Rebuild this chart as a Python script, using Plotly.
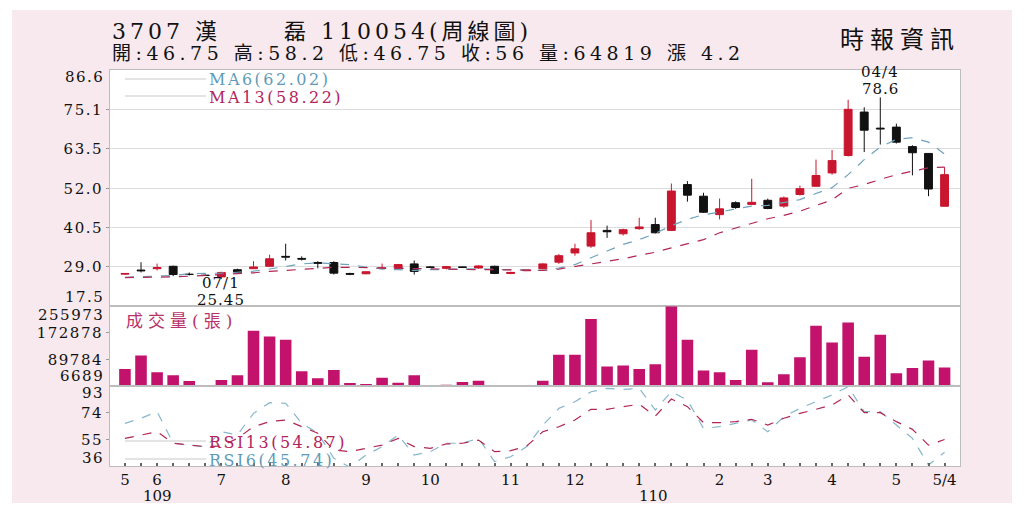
import plotly.graph_objects as go
from plotly.subplots import make_subplots

# weekly data, index 0 = late May 109 (2020), last = week of 110/5/4
week = list(range(52))

open_ = [26.9, 28.1, 28.5, 29.2, 26.9, 26.6, 26.1, 28.2, 28.5, 29.2,
         32.1, 31.5, 30.3, 30.3, 27.1, 27.0, 28.6, 28.6, 29.9, 29.0,
         28.6, 29.0, 28.7, 29.2, 27.1, 27.9, 28.5, 30.4, 33.1, 35.1,
         39.7, 38.7, 40.2, 41.4, 39.7, 53.1, 49.7, 44.3, 47.8, 47.3,
         48.5, 46.8, 50.2, 52.6, 56.5, 61.6, 74.3, 69.6, 69.9, 64.2,
         62.2, 46.75]
high = [27.2, 30.4, 30.0, 29.4, 27.4, 26.8, 27.6, 28.5, 30.7, 32.6,
        35.8, 32.1, 30.7, 30.7, 27.3, 27.8, 30.0, 29.9, 30.9, 29.2,
        29.3, 29.1, 29.5, 29.4, 27.6, 28.2, 30.1, 32.8, 35.8, 42.7,
        41.1, 40.2, 43.4, 43.4, 53.4, 54.1, 50.7, 49.0, 48.2, 54.8,
        49.0, 49.6, 52.8, 60.4, 63.2, 77.9, 75.7, 78.6, 70.9, 64.6,
        62.3, 58.2]
low = [26.8, 27.4, 28.0, 26.3, 26.5, 26.4, 25.45, 27.0, 28.4, 29.1,
       30.9, 30.9, 28.6, 26.8, 26.6, 26.9, 28.5, 28.4, 26.8, 28.8,
       28.3, 28.8, 28.5, 26.9, 26.9, 27.8, 28.3, 29.9, 32.3, 34.6,
       37.5, 38.2, 39.9, 38.8, 39.5, 48.1, 44.8, 42.9, 46.0, 47.2,
       45.9, 46.3, 49.9, 52.4, 56.0, 61.3, 62.6, 64.8, 65.1, 55.8,
       49.7, 46.75]
close = [27.1, 27.9, 28.8, 26.8, 26.8, 26.5, 27.4, 27.3, 29.0, 31.4,
         31.9, 31.3, 30.1, 27.2, 26.9, 27.6, 28.7, 29.7, 27.7, 28.9,
         29.1, 28.9, 29.3, 27.1, 27.4, 28.1, 29.9, 32.3, 34.3, 39.0,
         39.3, 39.9, 40.7, 39.0, 51.2, 50.0, 45.0, 46.0, 46.4, 47.9,
         46.1, 49.2, 51.9, 55.75, 60.1, 75.1, 69.0, 69.4, 65.5, 62.4,
         51.8, 56.0]

ma6 = [26.0, 26.1, 26.3, 26.5, 27.0, 27.0, 27.2, 27.45, 27.8, 28.4,
       29.2, 29.9, 30.2, 30.0, 29.7, 29.0, 28.4, 28.2, 28.0, 28.2,
       28.3, 28.3, 28.5, 28.3, 28.2, 28.1, 28.0, 28.7, 29.7, 31.7,
       33.6, 35.6, 37.0, 38.8, 41.1, 42.9, 44.3, 45.0, 46.0, 46.8,
       47.0, 47.8, 48.7, 50.5, 52.2, 56.0, 60.4, 64.1, 66.3, 66.8,
       65.5, 62.02]
ma13 = [25.9, 25.9, 26.0, 26.1, 26.3, 26.5, 26.7, 27.1, 27.3, 27.7,
        28.0, 28.5, 28.8, 28.9, 28.9, 28.8, 28.7, 28.6, 28.4, 28.3,
        28.3, 28.3, 28.2, 28.2, 28.2, 28.1, 28.0, 28.4, 29.1, 30.0,
        30.7, 31.4, 32.4, 33.3, 34.6, 35.9, 37.0, 39.0, 40.4, 41.9,
        43.1, 44.1, 45.3, 47.0, 48.6, 52.0, 53.1, 54.6, 56.0, 57.0,
        58.0, 58.22]

volume = [60130, 101940, 49760, 40330, 22400, 6689, 25550, 40330, 179590, 161670,
          151300, 52900, 30900, 57000, 16120, 12980, 32780, 17060, 40330, 7000,
          10780, 19260, 23350, 7630, 6900, 6800, 23350, 104140, 104140, 216370,
          67360, 70500, 60130, 74900, 255973, 151300, 54790, 49760, 25550, 119860,
          18320, 43470, 96910, 195300, 142800, 205680, 97850, 167010, 46610, 63270,
          86220, 64819]

rsi6 = [66.4, 70.0, 74.7, 52.2, 50.9, 49.8, 60.4, 58.1, 73.5, 81.1,
        80.7, 66.4, 59.3, 41.5, 35.1, 43.8, 49.8, 58.1, 43.8, 46.2,
        52.2, 52.2, 55.7, 39.1, 42.6, 49.8, 65.0, 77.1, 81.8, 88.9,
        91.3, 90.6, 91.3, 75.9, 88.9, 83.0, 62.8, 64.0, 66.4, 68.8,
        60.4, 71.1, 77.1, 81.8, 86.6, 92.5, 74.7, 74.7, 65.2, 55.7,
        36.7, 45.74]
rsi13 = [55.7, 58.1, 60.4, 52.2, 50.9, 49.8, 50.2, 55.7, 64.0, 67.6,
         68.8, 64.0, 59.3, 47.4, 46.2, 48.6, 50.9, 55.7, 49.8, 48.6,
         51.7, 52.2, 54.5, 46.2, 46.9, 50.2, 60.4, 64.0, 68.8, 76.4,
         76.4, 78.3, 80.0, 71.6, 83.7, 78.3, 66.9, 66.9, 67.6, 69.3,
         65.2, 70.0, 73.5, 76.4, 79.5, 86.6, 74.0, 74.0, 67.6, 62.1,
         50.9, 54.87]

price_ticks = [17.5, 29.0, 40.5, 52.0, 63.5, 75.1, 86.6]
vol_ticks = [6689, 89784, 172878, 255973]
rsi_ticks = [36, 55, 74, 93]
month_pos = [0, 2, 6, 10, 15, 19, 24, 28, 32, 37, 40, 44, 48, 51]
month_txt = ['5', '6', '7', '8', '9', '10', '11', '12', '1', '2', '3', '4', '5', '5/4']

FONT = 'DejaVu Serif, Noto Sans CJK TC, serif'
CJK = 'Noto Sans CJK TC, DejaVu Serif, serif'
RED = '#c8162e'
BLUE = '#6fa2bd'
CRIMSON = '#b12653'
GRID = '#dcdcdc'
LINE = '#bdbdbd'

# the page body adds 8px, so the figure is 8px smaller and all pixel
# positions below are given in window coordinates
OFF = 8
W, H = 1024 - OFF, 512 - OFF
ML, MR, MT, MB = 110 - OFF, 64, 70 - OFF, 46
PW, PH = W - ML - MR, H - MT - MB


def px(x):
    return (x - OFF - ML) / PW


def py(y):
    return (H - MB - (y - OFF)) / PH


def spaced(txt, ls):
    return '<span style="letter-spacing:%spx">%s</span>' % (ls, txt)


fig = make_subplots(rows=3, cols=1, shared_xaxes=True, vertical_spacing=0,
                    row_heights=[236.3, 79.7, 80])

fig.add_trace(go.Candlestick(
    x=week, open=open_, high=high, low=low, close=close,
    increasing=dict(line=dict(color=RED, width=1), fillcolor=RED),
    decreasing=dict(line=dict(color='#111111', width=1), fillcolor='#111111'),
    whiskerwidth=0, showlegend=False), row=1, col=1)
fig.add_trace(go.Scatter(x=week, y=ma6, mode='lines',
                         line=dict(color=BLUE, width=1.2, dash='dash'),
                         showlegend=False), row=1, col=1)
fig.add_trace(go.Scatter(x=week, y=ma13, mode='lines',
                         line=dict(color=CRIMSON, width=1.2, dash='dash'),
                         showlegend=False), row=1, col=1)

fig.add_trace(go.Bar(x=week, y=volume, width=0.72, marker_color='#c2126c',
                     marker_line_width=0, showlegend=False), row=2, col=1)

fig.add_trace(go.Scatter(x=week, y=rsi6, mode='lines',
                         line=dict(color='#86b6cc', width=1.2, dash='dash'),
                         showlegend=False), row=3, col=1)
fig.add_trace(go.Scatter(x=week, y=rsi13, mode='lines',
                         line=dict(color=CRIMSON, width=1.2, dash='dash'),
                         showlegend=False), row=3, col=1)

xr = [-0.93, 51.96]
for r in (1, 2, 3):
    fig.update_xaxes(range=xr, showgrid=False, showline=True, mirror=True,
                     linecolor=LINE, linewidth=1, zeroline=False,
                     rangeslider_visible=False, row=r, col=1)
fig.update_xaxes(tickmode='array', tickvals=month_pos, ticktext=month_txt,
                 ticks='', tickfont=dict(family=FONT, size=15, color='#111'),
                 minor=dict(tickmode='linear', tick0=0, dtick=1, ticks='inside',
                            ticklen=3, tickcolor='#666', tickwidth=2),
                 row=3, col=1)

fig.update_yaxes(range=[17.5, 86.6], tickmode='array', tickvals=price_ticks[1:-1],
                 ticktext=[spaced('%.1f' % v, 1.5) for v in price_ticks[1:-1]],
                 showgrid=True, gridcolor=GRID, row=1, col=1)
fig.update_yaxes(range=[vol_ticks[0], vol_ticks[-1]], tickmode='array',
                 tickvals=vol_ticks[1:-1], ticktext=[spaced(v, 1.5) for v in vol_ticks[1:-1]],
                 showgrid=False, row=2, col=1)
fig.update_yaxes(range=[rsi_ticks[0], rsi_ticks[-1]], tickmode='array',
                 tickvals=rsi_ticks[1:-1], ticktext=[spaced(v, 1.5) for v in rsi_ticks[1:-1]],
                 showgrid=False, row=3, col=1)
fig.update_yaxes(showline=True, mirror=True, linecolor=LINE, zeroline=False,
                 ticks='outside', ticklen=3, tickcolor='#999',
                 tickfont=dict(family=FONT, size=15, color='#111'))

ann = []
# edge labels of the y axes, nudged inside their panels
for ref, val, txt, shift in [('y', price_ticks[-1], '86.6', -7), ('y', price_ticks[0], '17.5', 9),
                             ('y2', vol_ticks[-1], '255973', -9), ('y2', vol_ticks[0], '6689', 10),
                             ('y3', rsi_ticks[-1], '93', -7), ('y3', rsi_ticks[0], '36', 8)]:
    ann.append(dict(xref='paper', yref=ref, x=0, y=val, text=spaced(txt, 1.5), xanchor='right',
                    xshift=-4, yshift=shift, showarrow=False,
                    font=dict(family=FONT, size=15, color='#111')))

ann += [
    dict(x=px(110), y=py(31), text=spaced('3707 漢　　 磊 110054(周線圖)', 4), xanchor='left',
         font=dict(family=FONT, size=22, color='#111')),
    dict(x=px(110), y=py(53), text=spaced('開:46.75 高:58.2 低:46.75 收:56 量:64819 漲 4.2', 4.5),
         xanchor='left', font=dict(family=FONT, size=19, color='#111')),
    dict(x=px(962), y=py(37), text=spaced('時報資訊', 6), xanchor='right',
         font=dict(family=CJK, size=24, color='#111')),
    dict(x=px(207), y=py(79), text=spaced('MA6(62.02)', 2.5), xanchor='left',
         font=dict(family=FONT, size=16, color='#5f9bb8')),
    dict(x=px(207), y=py(97), text=spaced('MA13(58.22)', 2.5), xanchor='left',
         font=dict(family=FONT, size=16, color='#b3245d')),
    dict(x=px(124), y=py(321), text=spaced('成交量(張)', 5), xanchor='left',
         font=dict(family=FONT, size=17, color='#b8336b')),
    dict(x=px(207), y=py(442), text=spaced('RSI13(54.87)', 2.5), xanchor='left',
         font=dict(family=FONT, size=16, color='#b3245d')),
    dict(x=px(207), y=py(460), text=spaced('RSI6(45.74)', 2.5), xanchor='left',
         font=dict(family=FONT, size=16, color='#5f9bb8')),
    dict(x=px(141), y=py(496), text='109', font=dict(family=FONT, size=15, color='#111')),
    dict(x=px(653), y=py(496), text='110', font=dict(family=FONT, size=15, color='#111')),
]
for a in ann:
    a.setdefault('xref', 'paper')
    a.setdefault('yref', 'paper')
    a.setdefault('showarrow', False)
    a.setdefault('yanchor', 'middle')

# low / high markers
for x, y, txt, shift in [(6, low[6], '07/1', -4), (6, low[6], '%.2f' % low[6], -21),
                         (47, high[47], '04/4', 25), (47, high[47], '%.1f' % high[47], 8)]:
    ann.append(dict(xref='x', yref='y', x=x, y=y, text=spaced(txt, 1), showarrow=False,
                    yanchor='middle', yshift=shift,
                    font=dict(family=FONT, size=15, color='#111')))

shapes = [
    dict(type='rect', xref='paper', yref='paper', x0=px(12), x1=px(1012), y0=py(503), y1=py(10),
         fillcolor='#f7e9ed', line_width=0, layer='below'),
    dict(type='rect', xref='paper', yref='paper', x0=0, x1=1, y0=0, y1=1,
         fillcolor='white', line_width=0, layer='below'),
]
for yy in (79, 96, 441, 459):
    shapes.append(dict(type='line', xref='paper', yref='paper', x0=px(125), x1=px(206),
                       y0=py(yy), y1=py(yy), line=dict(color='#c9c9c9', width=1)))

fig.update_layout(
    width=W, height=H,
    margin=dict(l=ML, r=MR, t=MT, b=MB),
    paper_bgcolor='white', plot_bgcolor='rgba(0,0,0,0)',
    bargap=0.3, showlegend=False,
    annotations=ann, shapes=shapes,
)

fig.write_html("out.html")
